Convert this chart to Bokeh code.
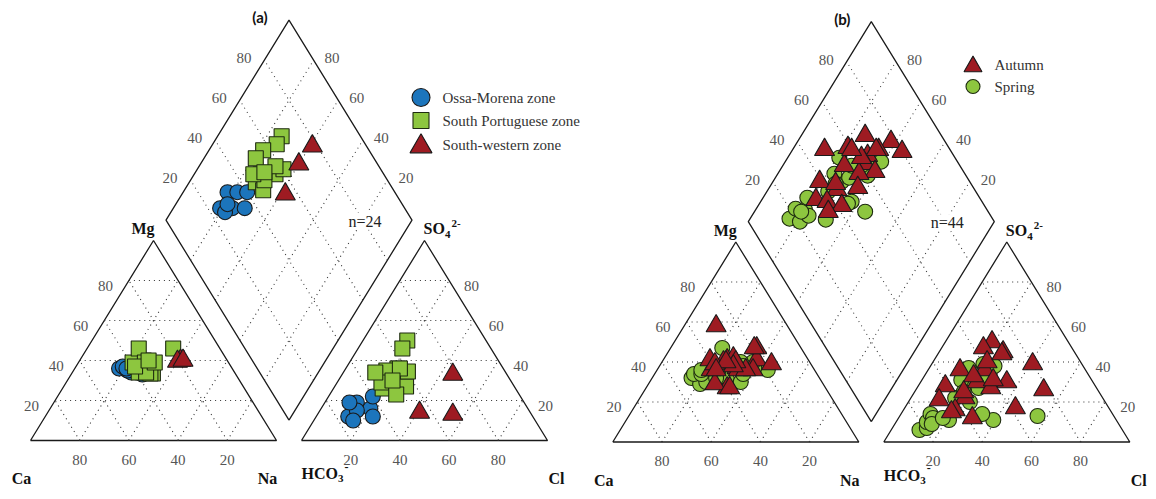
import numpy as np
from bokeh.plotting import figure
from bokeh.embed import file_html
from bokeh.resources import INLINE
from bokeh.core.properties import value

# ---------------------------------------------------------------
# Sample compositions as fractions of total cations / anions (meq)
# ---------------------------------------------------------------
# (a) hydrogeological zones
om_mg = [0.36, 0.35, 0.34, 0.37, 0.34, 0.33, 0.35, 0.36]
om_na = [0.18, 0.22, 0.26, 0.19, 0.24, 0.29, 0.22, 0.21]
om_so4 = [0.19, 0.16, 0.22, 0.12, 0.15, 0.12, 0.10, 0.19]
om_cl = [0.13, 0.20, 0.18, 0.13, 0.15, 0.23, 0.16, 0.10]

spz_mg = [0.39, 0.40, 0.39, 0.46, 0.34, 0.335, 0.46, 0.39, 0.335, 0.34, 0.37, 0.39, 0.40]
spz_na = [0.26, 0.26, 0.22, 0.21, 0.27, 0.33, 0.35, 0.27, 0.32, 0.30, 0.24, 0.31, 0.28]
spz_so4 = [0.50, 0.46, 0.36, 0.35, 0.28, 0.27, 0.345, 0.26, 0.29, 0.23, 0.34, 0.36, 0.30]
spz_cl = [0.18, 0.18, 0.21, 0.17, 0.22, 0.29, 0.26, 0.20, 0.18, 0.27, 0.13, 0.22, 0.22]

swz_mg = [0.40, 0.395, 0.40]
swz_na = [0.41, 0.40, 0.42]
swz_so4 = [0.33, 0.13, 0.14]
swz_cl = [0.45, 0.55, 0.41]

# (b) sampling campaigns
aut_mg = [0.41, 0.41, 0.39, 0.47, 0.36, 0.58, 0.37, 0.36, 0.40, 0.36, 0.27,
          0.41, 0.42, 0.36, 0.39, 0.29, 0.27, 0.40, 0.38, 0.47, 0.40, 0.36]
aut_na = [0.26, 0.38, 0.45, 0.35, 0.22, 0.13, 0.32, 0.33, 0.25, 0.39, 0.33,
          0.19, 0.28, 0.36, 0.22, 0.27, 0.34, 0.30, 0.30, 0.34, 0.26, 0.24]
aut_so4 = [0.50, 0.26, 0.39, 0.45, 0.36, 0.36, 0.30, 0.17, 0.30, 0.47, 0.27,
           0.28, 0.22, 0.33, 0.21, 0.16, 0.12, 0.15, 0.40, 0.44, 0.25, 0.31]
aut_cl = [0.19, 0.52, 0.41, 0.26, 0.23, 0.13, 0.35, 0.45, 0.23, 0.17, 0.30,
          0.11, 0.22, 0.20, 0.12, 0.21, 0.30, 0.20, 0.22, 0.26, 0.20, 0.29]

spr_mg = [0.32, 0.29, 0.34, 0.35, 0.30, 0.31, 0.36, 0.30, 0.33, 0.37, 0.40,
          0.47, 0.38, 0.34, 0.34, 0.36, 0.38, 0.40, 0.39, 0.38, 0.36, 0.32]
spr_na = [0.16, 0.21, 0.16, 0.20, 0.23, 0.31, 0.45, 0.37, 0.28, 0.39, 0.37,
          0.21, 0.23, 0.36, 0.19, 0.25, 0.30, 0.32, 0.28, 0.34, 0.18, 0.26]
spr_so4 = [0.06, 0.07, 0.10, 0.14, 0.12, 0.11, 0.11, 0.14, 0.29, 0.13, 0.39,
           0.37, 0.31, 0.20, 0.09, 0.22, 0.27, 0.34, 0.31, 0.38, 0.12, 0.25]
spr_cl = [0.115, 0.14, 0.125, 0.12, 0.14, 0.21, 0.39, 0.33, 0.19, 0.56, 0.21,
          0.16, 0.16, 0.25, 0.15, 0.18, 0.25, 0.26, 0.25, 0.26, 0.18, 0.20]

tick_values = [20, 40, 60, 80]
sample_counts = ["n=24", "n=44"]
panel_tags = ["(a)", "(b)"]

# ---------------------------------------------------------------
# Piper geometry (triangle side = 1)
# ---------------------------------------------------------------
H = np.sqrt(3) / 2
GAP = 0.1016
PX_X, PX_Y = 246.0, 230.94     # screen pixels per unit
X0, Y0 = 30.0, 440.0            # page position of the Ca corner of panel (a)
W, HT = 1156, 499
OX_B, OY_B = 582.3 / PX_X, -1.5 / PX_Y   # placement of panel (b)

SERIF = value("Liberation Serif")
BLUE, GREEN, RED = "#1c75bc", "#8dc63f", "#9e1b22"
EDGE = "#1a1a1a"


def page(xp, yp):
    """page pixel -> data coordinates"""
    return (xp - X0) / PX_X, (Y0 - yp) / PX_Y


def cation_xy(mg, na, ox, oy):
    mg, na = np.asarray(mg), np.asarray(na)
    return ox + na + mg / 2, oy + mg * H


def anion_xy(so4, cl, ox, oy):
    so4, cl = np.asarray(so4), np.asarray(cl)
    return ox + 1 + GAP + cl + so4 / 2, oy + so4 * H


def diamond_xy(na, so4, cl, ox, oy):
    u = 1 - np.asarray(na)
    v = np.asarray(so4) + np.asarray(cl)
    return ox + 1 + GAP / 2 + 0.5 * (v - u), oy + GAP * H + H * (u + v)


p = figure(width=W, height=HT,
           x_range=(-X0 / PX_X, (W - X0) / PX_X),
           y_range=((Y0 - HT) / PX_Y, Y0 / PX_Y),
           x_axis_location=None, y_axis_location=None,
           toolbar_location=None, output_backend="svg",
           min_border=0, outline_line_color=None,
           background_fill_color="white", border_fill_color="white")
p.xgrid.visible = False
p.ygrid.visible = False


def texts(xs, ys, labels, size=15, color="#555555", bold=False,
          align="center", xo=0, yo=0, font=SERIF, **extra):
    p.text(x=list(xs), y=list(ys), text=list(labels), text_font=font,
           text_font_size=f"{size}px",
           text_font_style="bold" if bold else "normal",
           text_color=color, text_align=align, text_baseline="middle",
           x_offset=xo, y_offset=yo, **extra)


def draw_frame(ox, oy, tag, count):
    b = np.array([ox + 1 + GAP / 2, oy + GAP * H])   # bottom of the diamond
    up_l = np.array([-0.5, H])
    up_r = np.array([0.5, H])

    # outlines
    cat = [(ox, oy), (ox + 1, oy), (ox + 0.5, oy + H), (ox, oy)]
    an = [(ox + 1 + GAP, oy), (ox + 2 + GAP, oy),
          (ox + 1.5 + GAP, oy + H), (ox + 1 + GAP, oy)]
    dia = [tuple(b), tuple(b + up_l), tuple(b + up_l + up_r), tuple(b + up_r), tuple(b)]
    p.multi_line(xs=[[q[0] for q in s] for s in (cat, an, dia)],
                 ys=[[q[1] for q in s] for s in (cat, an, dia)],
                 line_color=EDGE, line_width=1.3)

    # dotted grid
    gx, gy = [], []
    for t in tick_values:
        f = t / 100
        for base in (ox, ox + 1 + GAP):
            segs = [((base + f / 2, oy + f * H), (base + 1 - f / 2, oy + f * H)),
                    ((base + f, oy), (base + f + (1 - f) / 2, oy + (1 - f) * H)),
                    ((base + 1 - f, oy), (base + (1 - f) / 2, oy + (1 - f) * H))]
            for a, c in segs:
                gx.append([a[0], c[0]])
                gy.append([a[1], c[1]])
        s1 = b + f * up_l
        s2 = b + f * up_r
        for a, c in ((s1, s1 + up_r), (s2, s2 + up_l)):
            gx.append([a[0], c[0]])
            gy.append([a[1], c[1]])
    p.multi_line(xs=gx, ys=gy, line_color="#333333", line_width=1.1,
                 line_dash="1 4")

    fr = np.array(tick_values) / 100
    lab = [str(t) for t in tick_values]
    # cation scales
    texts(ox + fr / 2, oy + fr * H, lab, align="right", xo=-16, yo=5)
    texts(ox + 1 - fr, np.full(4, oy), lab, yo=19)
    # anion scales
    texts(ox + 2 + GAP - fr / 2, oy + fr * H, lab, align="left", xo=15, yo=5)
    texts(ox + 1 + GAP + fr, np.full(4, oy), lab, yo=19)
    # diamond scales
    lpts = np.array([b + up_l + f * up_r for f in fr])
    rpts = np.array([b + up_r + f * up_l for f in fr])
    texts(lpts[:, 0], lpts[:, 1], lab, align="right", xo=-13, yo=-2)
    texts(rpts[:, 0], rpts[:, 1], lab, align="left", xo=11, yo=-2)

    # component names
    k = dict(size=16, color="#111111", bold=True)
    texts([ox + 0.5], [oy + H], ["Mg"], xo=-10.5, yo=-12, **k)
    texts([ox], [oy], ["Ca"], xo=-9, yo=38, **k)
    texts([ox + 1], [oy], ["Na"], xo=-9, yo=38, **k)
    texts([ox + 2 + GAP], [oy], ["Cl"], align="left", xo=1, yo=38, **k)
    texts([ox + 1 + GAP], [oy], ["HCO"], align="left", xo=0, yo=33, **k)
    texts([ox + 1 + GAP], [oy], ["3"], align="left", xo=36.5, yo=38,
          size=11, color="#111111", bold=True)
    texts([ox + 1 + GAP], [oy], ["-"], align="left", xo=43, yo=26,
          size=12, color="#111111", bold=True)
    texts([ox + 1.5 + GAP], [oy + H], ["SO"], align="left", xo=-1, yo=-12, **k)
    texts([ox + 1.5 + GAP], [oy + H], ["4"], align="left", xo=20.5, yo=-6,
          size=11, color="#111111", bold=True)
    texts([ox + 1.5 + GAP], [oy + H], ["2-"], align="left", xo=27, yo=-17,
          size=11, color="#111111", bold=True)

    top = b + up_l + up_r
    texts([top[0]], [top[1]], [tag], size=15, color="#111111", bold=True,
          xo=-29, yo=-3, font=value("Lato"))
    rv = b + up_r
    texts([rv[0]], [rv[1]], [count], size=16, color="#222222", xo=-47, yo=1,
          background_fill_color="white")


def draw_samples(mg, na, so4, cl, ox, oy, **style):
    cx, cy = cation_xy(mg, na, ox, oy)
    ax, ay = anion_xy(so4, cl, ox, oy)
    dx, dy = diamond_xy(na, so4, cl, ox, oy)
    p.scatter(np.concatenate([cx, ax, dx]), np.concatenate([cy, ay, dy]),
              line_width=1.1, **style)


circ_blue = dict(marker="circle", size=15, fill_color=BLUE, line_color=EDGE)
sq_green = dict(marker="square", size=15, fill_color=GREEN, line_color="#1e2b10")
tri_red = dict(marker="triangle", size=20, fill_color=RED, line_color=EDGE)
circ_green = dict(marker="circle", size=15, fill_color=GREEN, line_color="#1e2b10")

# panel (a)
draw_frame(0.0, 0.0, panel_tags[0], sample_counts[0])
draw_samples(om_mg, om_na, om_so4, om_cl, 0.0, 0.0, **circ_blue)
draw_samples(spz_mg, spz_na, spz_so4, spz_cl, 0.0, 0.0, **sq_green)
draw_samples(swz_mg, swz_na, swz_so4, swz_cl, 0.0, 0.0, **tri_red)

# panel (b)
draw_frame(OX_B, OY_B, panel_tags[1], sample_counts[1])
draw_samples(spr_mg, spr_na, spr_so4, spr_cl, OX_B, OY_B, **circ_green)
draw_samples(aut_mg, aut_na, aut_so4, aut_cl, OX_B, OY_B, **tri_red)

# legends
leg_a = [("Ossa-Morena zone", dict(circ_blue, size=18), 97),
         ("South  Portuguese zone", dict(sq_green, size=16), 120),
         ("South-western zone", dict(tri_red, size=22), 144)]
for label, style, yp in leg_a:
    mx, my = page(420.5, yp + (2 if style["marker"] == "triangle" else 0))
    p.scatter([mx], [my], line_width=1.1, **style)
    tx, ty = page(442, yp)
    texts([tx], [ty], [label], size=15, color="#333333", align="left")

leg_b = [("Autumn", dict(tri_red, size=18), 64),
         ("Spring", dict(circ_green, size=14), 86)]
for label, style, yp in leg_b:
    mx, my = page(972.5, yp + (2 if style["marker"] == "triangle" else 0))
    p.scatter([mx], [my], line_width=1.1, **style)
    tx, ty = page(994, yp)
    texts([tx], [ty], [label], size=15, color="#333333", align="left")

open("out.html", "w").write(file_html(p, INLINE))
